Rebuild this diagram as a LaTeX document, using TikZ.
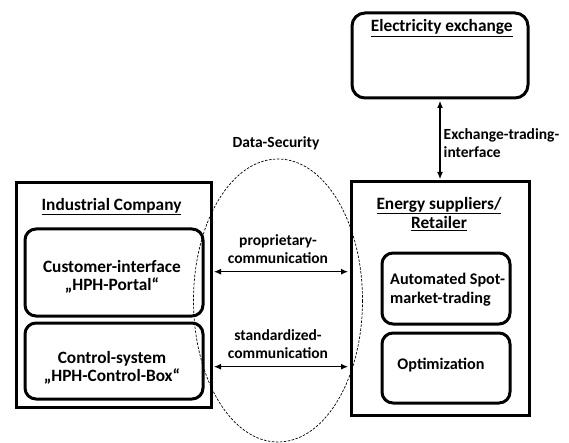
\documentclass[tikz,border=0pt]{standalone}
\usepackage{fontspec}
\setmainfont{Carlito}
\usetikzlibrary{arrows.meta}
\begin{document}
\begin{tikzpicture}[x=1pt,y=-1pt,
  outer/.style={draw, line width=3pt, inner sep=0pt},
  inbox/.style={draw, line width=3pt, rounded corners=11pt, inner sep=0pt},
  txt/.style={anchor=base, inner sep=0pt, font=\bfseries\fontsize{15.5}{18}\selectfont},
  bigtxt/.style={txt, font=\bfseries\fontsize{17.3}{20}\selectfont},
  midtxt/.style={txt, font=\bfseries\fontsize{16.2}{19}\selectfont},
  ltxt/.style={anchor=base west, inner sep=0pt},
  arr/.style={{Latex[length=7pt,width=6pt]}-{Latex[length=7pt,width=6pt]}, line width=1.1pt, shorten <=1.5pt, shorten >=1.5pt},
  sec/.style={draw, dashed, dash pattern=on 2.5pt off 1.5pt, line width=0.7pt}]
\useasboundingbox (0,0) rectangle (569,443);

% security ellipse
\draw[sec] (278,300.5) ellipse [x radius=84.5, y radius=141.5];
\node[txt] (dsec) at (276,148) {Data-Security};

% industrial company
\node[outer, minimum width=195pt, minimum height=224pt] (ic) at (113.5,295) {};
\node[bigtxt] (ict) at (111.5,210.5) {\underline{Industrial Company}};
\node[inbox, minimum width=178pt, minimum height=87pt] (cif) at (114,272.5) {};
\node[bigtxt] (cif1) at (112,272.3) {Customer-interface};
\node[bigtxt] (cif2) at (112,290.3) {„HPH-Portal“};
\node[inbox, minimum width=178pt, minimum height=76pt] (cs) at (114,361) {};
\node[bigtxt] (cs1) at (112,363) {Control-system};
\node[bigtxt] (cs2) at (112,381) {„HPH-Control-Box“};

% energy supplier
\node[outer, minimum width=178pt, minimum height=233pt] (es) at (440,298.5) {};
\node[bigtxt] (est1) at (439,209.3) {\underline{Energy suppliers/}};
\node[bigtxt] (est2) at (439,228.3) {\underline{Retailer}};
\node[inbox, minimum width=128pt, minimum height=71pt] (ast) at (446,288.5) {};
\node[midtxt, ltxt] (ast1) at (390,284.3) {Automated Spot-};
\node[midtxt, ltxt] (ast2) at (390,303) {market-trading};
\node[inbox, minimum width=128pt, minimum height=70pt] (opt) at (446,368) {};
\node[midtxt] (opt1) at (441,369.3) {Optimization};

% electricity exchange
\node[inbox, rounded corners=13pt, minimum width=176pt, minimum height=85pt] (ee) at (440,55.5) {};
\node[bigtxt] (eet) at (441.7,31.7) {\underline{Electricity exchange}};

% connectors
\draw[arr] (ee.south -| 440,0) -- (es.north -| 440,0);
\node[txt, ltxt] (ex1) at (443.5,139.3) {Exchange-trading-};
\node[txt, ltxt] (ex2) at (443.5,157.3) {interface};

\draw[arr] (ic.east |- 0,271.7) -- (es.west |- 0,271.7);
\node[txt] (pc1) at (278,245) {proprietary-};
\node[txt] (pc2) at (278,263) {communication};

\draw[arr] (ic.east |- 0,366.7) -- (es.west |- 0,366.7);
\node[txt] (sc1) at (278,340.5) {standardized-};
\node[txt] (sc2) at (278,358.5) {communication};
\end{tikzpicture}
\end{document}
